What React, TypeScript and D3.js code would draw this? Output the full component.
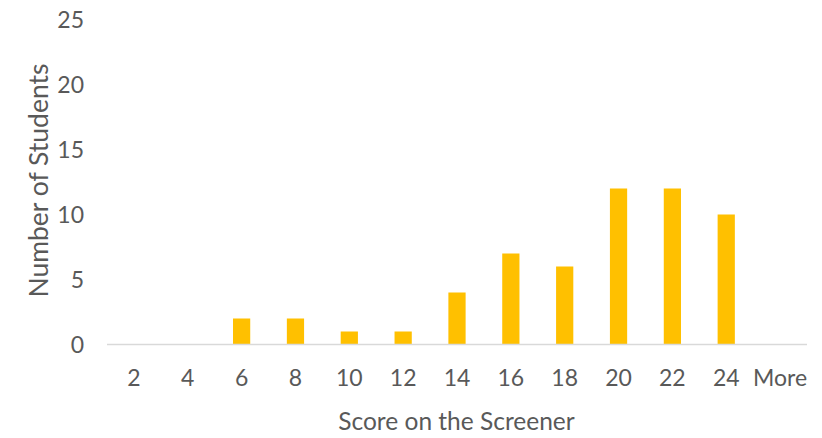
import React from "react";
import * as d3 from "d3";

const categories = ["2", "4", "6", "8", "10", "12", "14", "16", "18", "20", "22", "24", "More"];
const counts = [0, 0, 2, 2, 1, 1, 4, 7, 6, 12, 12, 10, 0];
const yTicks = [0, 5, 10, 15, 20, 25];

const W = 822;
const H = 438;
const M = { left: 107, right: 15, top: 19.5, bottom: 93.5 };

export default function App() {
  const x = d3
    .scaleBand<string>()
    .domain(categories)
    .range([M.left, W - M.right])
    .paddingInner(0.68)
    .paddingOuter(0.34);
  const xb = d3.scaleBand<string>().domain(categories).range([M.left, W - M.right]);
  const y = d3.scaleLinear().domain([0, 25]).range([H - M.bottom, M.top]);
  const font = "Lato, 'Open Sans', sans-serif";
  const col = "#595959";
  return (
    <div style={{ position: "absolute", left: 0, top: 0 }}>
      <svg width={W} height={H} style={{ display: "block", background: "#fff" }}>
        {yTicks.map((t) => (
          <text
            key={t}
            x={84}
            y={y(t)}
            dy="0.36em"
            textAnchor="end"
            fontFamily={font}
            fontSize={23}
            fill={col}
          >
            {t}
          </text>
        ))}
        {categories.map((c, i) => (
          <rect
            key={c}
            x={x(c)}
            y={y(counts[i])}
            width={x.bandwidth()}
            height={y(0) - y(counts[i])}
            fill="#FFC000"
          />
        ))}
        <line x1={M.left} x2={W - M.right} y1={y(0)} y2={y(0)} stroke="#D9D9D9" strokeWidth={1.5} />
        {categories.map((c) => (
          <text
            key={c}
            x={(xb(c) as number) + xb.bandwidth() / 2}
            y={377.5}
            dy="0.36em"
            textAnchor="middle"
            fontFamily={font}
            fontSize={23}
            fill={col}
          >
            {c}
          </text>
        ))}
        <text
          x={456.5}
          y={430}
          textAnchor="middle"
          fontFamily={font}
          fontSize={24.5}
          fill={col}
        >
          Score on the Screener
        </text>
        <text
          transform={`translate(38,180.5) rotate(-90)`}
          dy="0.36em"
          textAnchor="middle"
          fontFamily={font}
          fontSize={26.5}
          fill={col}
        >
          Number of Students
        </text>
      </svg>
    </div>
  );
}
